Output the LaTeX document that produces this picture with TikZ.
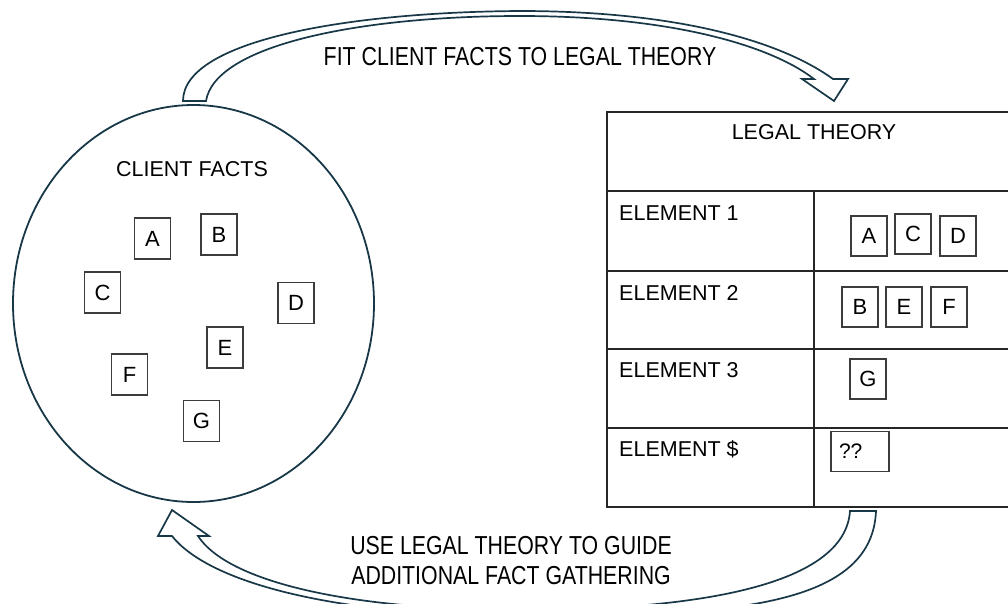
\documentclass[tikz,border=0pt]{standalone}
\usepackage{fontspec}
\setmainfont{Liberation Sans}
\newfontfamily\narrowfont{Liberation Sans}[FakeStretch=0.82]
\usetikzlibrary{shapes.geometric}
\definecolor{inkteal}{RGB}{24,56,72}
\definecolor{boxgray}{RGB}{60,60,60}
\tikzset{
  factbox/.style={draw=boxgray, line width=1.1pt, minimum width=36pt, minimum height=41pt,
                  inner sep=0pt, font=\fontsize{22}{24}\selectfont},
  cellbox/.style={factbox, minimum height=40pt},
  heading/.style={font=\fontsize{21.5}{24}\selectfont, inner sep=0pt},
  rowlabel/.style={heading, anchor=base west},
  flowlabel/.style={font=\narrowfont\fontsize{26}{30}\selectfont, inner sep=0pt, align=center},
  bandarrow/.style={draw=inkteal, line width=1.7pt, fill=white, line join=miter},
  grid/.style={draw=black!85, line width=1.4pt}
}
\begin{document}
\begin{tikzpicture}[x=1pt,y=-1pt]
\useasboundingbox (0,0) rectangle (1008,603);

% client facts circle
\node (facts) [ellipse, draw=inkteal, line width=1.8pt, minimum width=361pt, minimum height=397pt,
               inner sep=0pt] at (193.5,303.5) {};
\node (factstitle) [heading] at (192,169) {CLIENT FACTS};
\node (fa) [factbox] at (152.5,238.5) {A};
\node (fb) [factbox] at (219,234.5) {B};
\node (fc) [factbox] at (102.5,292.5) {C};
\node (fd) [factbox] at (296,303) {D};
\node (fe) [factbox] at (225,347.5) {E};
\node (ff) [factbox] at (129.5,374.5) {F};
\node (fg) [factbox] at (201.5,421) {G};

% legal theory table
\draw[grid] (1015,112) -- (607,112) -- (607,507) -- (1015,507);
\draw[grid] (607,191) -- (1015,191);
\draw[grid] (607,271) -- (1015,271);
\draw[grid] (607,349) -- (1015,349);
\draw[grid] (607,428) -- (1015,428);
\draw[grid] (814,191) -- (814,507);
\node (theory) [heading] at (814,132) {LEGAL THEORY};
\node (el1) [rowlabel] at (619,220) {ELEMENT 1};
\node (el2) [rowlabel] at (619,300) {ELEMENT 2};
\node (el3) [rowlabel] at (619,377) {ELEMENT 3};
\node (el4) [rowlabel] at (619,456) {ELEMENT \$};
\node (ta) [cellbox] at (869,236) {A};
\node (tc) [cellbox] at (913,234) {C};
\node (td) [cellbox] at (958,236) {D};
\node (tb) [cellbox] at (860,307) {B};
\node (te) [cellbox] at (904,307) {E};
\node (tf) [cellbox] at (949,307) {F};
\node (tg) [cellbox] at (868,379) {G};
\node (tq) [cellbox, minimum width=58pt, text width=42pt, inner xsep=8pt, align=left,
            font=\fontsize{21}{24}\selectfont] at (860,451.5) {??};

% upper band arrow: facts -> theory
\draw[bandarrow]
  (183,101) .. controls (183,40) and (350,12) .. (520,11)
  .. controls (680,11) and (782,42) .. (833,79)
  -- (848,79) -- (834,101) -- (802,79) -- (814,79)
  .. controls (770,45) and (670,16) .. (520,16)
  .. controls (360,16) and (215,45) .. (206,101) -- cycle;
\node (fitlabel) [flowlabel] at (520,57) {FIT CLIENT FACTS TO LEGAL THEORY};

% lower band arrow: theory -> facts (its lowest part runs below the page edge)
\draw[bandarrow]
  (876,511) .. controls (872,610) and (720,616) .. (520,616)
  .. controls (340,616) and (210,584) .. (172,536)
  -- (158,536) -- (172,510) -- (209,536) -- (198,536)
  .. controls (228,582) and (350,610) .. (520,610)
  .. controls (700,610) and (845,585) .. (850,511) -- cycle;
\node (guidelabel) [flowlabel] at (511,546) {USE LEGAL THEORY TO GUIDE};
\node (gatherlabel) [flowlabel] at (511,576) {ADDITIONAL FACT GATHERING};
\end{tikzpicture}
\end{document}
